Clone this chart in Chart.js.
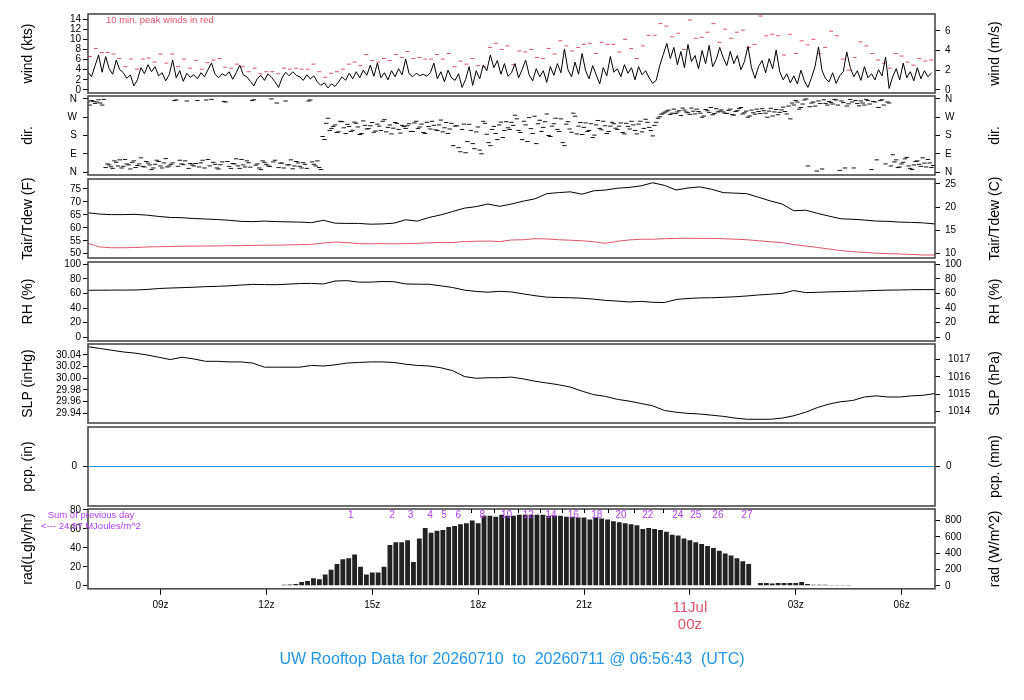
<!DOCTYPE html>
<html>
<head>
<meta charset="utf-8">
<script src="https://cdn.jsdelivr.net/npm/chart.js@4.4.1/dist/chart.umd.min.js"></script>
<style>
html,body{margin:0;padding:0;background:#fff;}
#wrap{position:relative;width:1024px;height:700px;overflow:hidden;background:#fff;}
#wrap canvas{position:absolute;left:0;}
</style>
</head>
<body>
<div id="wrap"></div>
<script>
// ---------------- DATA ----------------
// time window (hours UTC counted from 00z 10 Jul)
const startHour = 6.9453;   // 06:56:43 10 Jul
const endHour = 30.9453;    // 06:56:43 11 Jul
const windStep = 0.1;       // 6-minute samples
const gustStartHour = 7.0;
const gustStep = 1 / 6;     // 10-minute peaks
const tempStep = 1 / 3;     // 20-minute samples
const radStartHour = 12.0;
const radStep = 1 / 6;

const xTickHours = [9, 12, 15, 18, 21, 24, 27, 30];
const xTickLabels = ['09z', '12z', '15z', '18z', '21z', ['11Jul', '00z'], '03z', '06z'];

const windKts = [
  3.6,2.6,4.8,6.9,3.5,6.6,4.2,3.1,5.9,4.0,3.4,2.3,3.0,0.8,2.0,4.4,3.2,5.0,3.6,4.6,2.8,3.4,1.8,3.0,5.9,2.4,3.8,1.7,3.3,2.5,
  3.0,2.2,3.4,2.6,4.0,5.3,3.1,2.4,3.2,2.8,3.6,2.1,3.4,4.9,3.0,2.6,1.7,0.8,2.3,2.9,1.9,3.2,2.5,1.6,0.5,2.4,3.5,2.8,3.6,2.9,
  2.6,1.9,3.0,2.2,2.8,1.6,0.9,1.4,0.4,1.2,0.7,1.6,2.6,1.9,3.3,2.2,3.6,2.4,3.9,2.9,4.9,2.7,5.3,2.4,3.4,2.0,3.8,2.6,4.2,3.0,
  6.1,3.2,2.6,3.3,2.8,3.1,2.7,3.4,5.3,2.2,3.6,1.6,3.9,2.4,1.9,3.2,0.5,2.1,4.6,0.9,3.8,2.2,4.9,3.8,6.9,4.4,5.8,3.1,5.2,2.7,
  3.4,5.2,2.4,4.0,5.9,3.0,1.8,4.2,2.6,3.8,1.5,4.6,2.9,5.2,3.4,8.1,4.0,2.6,5.5,3.1,7.2,3.8,2.2,4.8,3.0,1.2,4.4,2.8,6.6,3.5,
  4.2,2.6,5.0,3.3,4.4,2.0,4.6,3.0,3.8,2.4,1.3,1.9,4.8,7.0,9.2,6.2,8.4,5.0,7.6,4.4,9.0,5.6,6.8,4.2,7.8,5.2,8.8,4.6,6.0,8.4,
  6.4,4.8,7.6,5.2,6.8,4.0,5.6,8.6,4.4,2.3,4.6,5.8,3.4,6.2,4.2,7.9,3.6,2.0,3.2,1.4,2.8,1.2,3.9,1.8,0.5,2.4,4.6,8.5,3.8,2.2,
  1.6,3.4,1.3,2.8,3.6,7.5,4.4,2.6,3.8,1.9,4.6,2.4,3.2,2.0,4.0,2.8,6.5,0.3,2.6,4.2,2.0,5.3,2.4,3.6,1.8,4.4,2.2,3.8,2.6,3.4
];

const windGustKts = [
  6.6,8.2,7.4,7.4,7.1,6.2,4.6,6.1,4.1,6.1,6.3,5.5,7.1,5.3,7.1,4.6,6.1,4.3,5.8,4.1,5.4,5.9,6.2,4.5,4.3,5.1,4.6,3.6,4.3,3.2,3.6,3.6,3.2,4.3,4.1,4.3,
  4.1,4.1,5.1,3.6,2.5,3.3,3.6,4.1,5.1,5.5,4.8,7.0,5.8,5.5,6.2,5.8,7.0,6.4,7.6,6.2,6.4,6.1,6.1,7.0,6.1,7.2,4.6,5.7,5.1,6.2,4.8,4.6,8.4,9.2,8.0,
  8.7,5.0,7.7,7.5,8.0,6.4,6.2,8.2,7.1,9.7,8.7,7.7,8.4,9.0,9.2,7.2,9.4,9.0,9.0,7.5,10.0,8.2,6.2,8.7,10.8,10.8,13.1,12.6,10.5,11.2,8.0,13.8,10.2,10.4,11.4,13.1,
  9.4,12.0,10.2,11.4,11.8,8.4,9.0,14.6,10.7,11.0,10.7,6.9,11.0,7.2,9.7,8.9,10.0,7.2,8.4,11.6,10.7,6.1,3.9,6.4,9.5,8.7,7.2,5.9,5.3,4.3,7.2,6.7,5.5,4.9,6.2,5.7,5.9
];

const windDirDeg = [
  345,352,338,356,330,22,35,18,48,60,28,40,15,55,32,70,25,44,12,38,52,20,66,30,45,355,58,36,350,42,
  30,352,45,20,62,358,38,15,50,345,28,42,65,18,35,55,24,356,40,12,48,30,360,58,22,44,350,36,16,52,
  28,46,18,355,38,55,12,160,265,215,232,198,248,190,224,206,240,185,252,212,228,196,236,205,258,220,188,244,210,230,
  215,238,200,250,222,195,245,212,230,204,256,218,190,240,226,120,210,95,235,140,198,108,250,186,130,225,160,246,205,218,
  245,280,205,160,232,268,190,140,255,220,286,175,238,210,262,130,248,196,275,226,185,242,205,170,232,215,250,190,226,238,
  210,242,188,225,250,205,236,198,260,220,178,245,272,290,300,284,310,296,278,305,292,315,286,298,270,308,294,282,312,300,
  296,288,310,280,302,318,292,270,305,285,298,312,290,300,276,308,294,320,286,262,330,345,318,355,30,340,325,350,15,338,
  348,335,355,8,342,325,358,20,338,350,330,352,12,345,318,356,40,340,85,60,25,48,72,18,35,55,28,44,62,22
];
const windDirDegHalf = [
  330,348,345,340,358,40,26,55,30,20,62,35,48,22,40,28,52,35,20,58,30,45,25,38,352,28,40,55,18,35,
  42,25,58,355,30,48,20,36,348,52,18,40,30,62,25,46,352,34,20,55,38,28,50,340,44,20,35,60,30,45,
  20,38,350,50,30,22,175,240,205,225,195,250,218,235,200,246,222,190,230,214,244,202,226,250,198,232,216,240,192,224,
  228,200,242,215,236,190,224,250,208,232,198,244,212,130,228,100,236,150,205,115,222,90,240,145,210,190,232,170,248,210,
  230,262,195,250,150,214,275,238,200,248,180,226,265,200,145,236,212,290,188,244,220,200,238,182,254,208,228,200,245,216,
  226,195,240,212,232,188,250,215,245,205,230,265,285,295,305,290,288,302,315,296,284,300,310,290,276,302,318,288,296,306,
  290,304,284,298,312,286,300,276,292,310,288,302,270,314,296,282,306,298,325,340,352,310,335,360,322,345,5,338,356,330,
  342,358,330,350,20,336,345,352,326,340,358,335,348,60,352,330,345,30,50,22,40,65,30,12,52,38,70,25,45,32
];

const tairF = [
  65.8,65.3,65.1,65.1,65.2,64.9,64.4,64.0,63.9,63.6,63.4,63.2,62.9,62.5,62.4,62.6,62.4,62.3,62.2,62.0,
  62.9,61.8,61.7,61.7,61.4,61.5,61.8,63.1,62.6,64.0,65.0,66.3,67.6,68.2,69.2,68.3,69.2,70.3,71.2,73.2,
  73.6,73.9,73.0,74.3,74.6,75.3,75.6,76.2,77.4,76.4,74.6,75.4,75.8,74.9,73.6,73.4,73.2,71.8,70.4,69.2,
  66.6,66.8,65.6,64.5,63.5,63.3,63.0,62.6,62.5,62.2,62.1,61.9,61.5
];
const tdewF = [
  54.0,52.6,52.3,52.3,52.4,52.6,52.7,52.8,52.9,52.9,53.0,53.0,53.1,53.1,53.2,53.3,53.3,53.4,53.5,53.6,
  54.1,54.5,54.3,53.9,53.8,53.9,53.8,53.9,54.0,54.2,54.4,54.3,54.7,54.8,54.9,54.7,55.3,55.4,55.8,55.7,
  55.4,55.2,55.0,54.6,54.0,54.8,55.3,55.6,55.6,55.8,55.9,56.0,55.9,55.9,55.8,55.6,55.4,55.0,54.6,54.3,
  53.5,53.0,52.4,51.8,51.2,50.8,50.5,50.2,50.0,49.9,49.7,49.5,49.5
];
const rhPct = [
  64.4,64.5,64.6,64.7,64.8,65.5,66.8,67.5,68.0,68.6,69.4,69.8,70.5,71.5,72.5,72.2,72.0,72.8,73.6,73.8,
  73.0,77.0,77.6,75.6,75.5,76.4,76.2,73.0,72.8,72.6,70.5,68.2,64.6,62.8,61.8,63.0,62.1,59.5,57.0,55.0,
  54.5,54.2,53.5,52.2,50.6,49.6,48.4,49.2,48.0,47.6,51.8,53.2,54.0,54.2,54.8,55.5,56.6,58.0,59.0,60.2,
  64.0,61.2,61.6,62.2,62.6,63.0,63.6,64.2,64.6,64.8,65.2,65.3,65.3
];
const slpInHg = [
  30.054,30.051,30.048,30.045,30.043,30.040,30.036,30.032,30.036,30.033,30.029,30.029,30.028,30.028,30.026,
  30.019,30.019,30.019,30.019,30.022,30.021,30.023,30.026,30.027,30.028,30.028,30.027,30.024,30.022,30.021,
  30.018,30.013,30.003,30.000,30.001,30.001,30.002,29.999,29.995,29.992,29.989,29.985,29.978,29.972,29.969,
  29.964,29.961,29.957,29.953,29.945,29.942,29.940,29.939,29.937,29.935,29.932,29.930,29.930,29.930,29.932,
  29.936,29.942,29.950,29.956,29.960,29.962,29.968,29.970,29.968,29.968,29.970,29.971,29.974
];
const pcpIn = [0, 0];
const pcpHours = [startHour, endHour];

const radLy = [
  0.5,0.5,0.7,1,1.5,2,4,5,8,7,12,17,23,28,29,33,20,12,14,14,
  20,43,46,46,48,25,50,61,56,58,59,62,63,65,66,69,66,74,74,73,
  75,74,74,75,75,75,75,75,74,74,74,73,73,72,72,70,72,71,70,68,
  67,66,65,64,60,61,60,59,57,54,53,50,48,46,44,42,40,37,34,32,
  29,26,23,0,3,3,2.5,3,3,3,3,4,2,1,1,1,0.8,0.8,0.8,0.8,0
];
const radSumLabels = ['1','2','3','4','5','6','8','10','12','14','16','18','20','22','24','25','26','27'];
const radSumHours = [14.390,15.562,16.084,16.640,17.037,17.434,18.115,18.807,19.420,20.064,20.696,21.360,22.050,22.807,23.658,24.169,24.793,25.616];
const radSumTickHours = [17.786,18.455,19.119,19.752,20.384,21.009,21.690,22.420,23.233];
const prevDayText = ['Sum of previous day', '<--- 24.97 MJoules/m^2'];

const mainTitle = 'UW Rooftop Data for 20260710  to  20260711 @ 06:56:43  (UTC)';

// unit conversions
const KTS_TO_MS = 0.514444;
const INHG_TO_HPA = 33.8639;
const LY_TO_WM2 = 11.63;

// ---------------- STYLE / HELPERS ----------------
const FONT = '"Liberation Sans", Arial, Helvetica, sans-serif';
Chart.defaults.font.family = FONT;
Chart.defaults.font.size = 10;
Chart.defaults.color = '#000';
const RED = '#DF536B';
const BLUE = '#2297E6';
const PURPLE = '#B040F0';

const wrap = document.getElementById('wrap');

const panelPlugin = {
  id: 'panel',
  afterDraw(chart, args, opts) {
    const { ctx, chartArea: a } = chart;
    ctx.save();
    ctx.strokeStyle = '#4a4a4a';
    ctx.lineWidth = 1.6;
    ctx.strokeRect(a.left, a.top, a.right - a.left, a.bottom - a.top);
    if (opts.rightTitle) {
      ctx.translate(995, (a.top + a.bottom) / 2);
      ctx.rotate(-Math.PI / 2);
      ctx.font = '14px ' + FONT;
      ctx.fillStyle = '#000';
      ctx.textAlign = 'center';
      ctx.textBaseline = 'middle';
      ctx.fillText(opts.rightTitle, 0, 0);
    }
    ctx.restore();
  }
};

function yScale(pos, min, max, values, labels, title, pad) {
  return {
    type: 'linear', position: pos, min: min, max: max,
    afterFit: sc => { sc.width = pos === 'left' ? 88 : 89; },
    afterBuildTicks: sc => { sc.ticks = values.map(v => ({ value: v })); },
    grid: { drawOnChartArea: false, drawTicks: true, tickLength: 5, tickColor: '#000', tickWidth: 1 },
    border: { display: false },
    ticks: {
      padding: pad, color: '#000', font: { size: 10 },
      autoSkip: false,
      callback: (v, i) => labels[i]
    },
    title: pos === 'left'
      ? { display: true, text: title, color: '#000', font: { size: 14 }, padding: { top: 20, bottom: 0 } }
      : { display: false }
  };
}

function hiddenX() {
  return { type: 'linear', min: startHour, max: endHour, display: false };
}

function makePanel(top, height, padTop, padBottom, config, rightTitle, extraPlugins) {
  const c = document.createElement('canvas');
  c.width = 1024; c.height = height;
  c.style.top = top + 'px';
  c.style.width = '1024px'; c.style.height = height + 'px';
  wrap.appendChild(c);
  const o = config.options;
  o.responsive = false;
  o.animation = false;
  o.layout = { padding: { top: padTop, bottom: padBottom, left: 0, right: 0 } };
  o.plugins = Object.assign({ legend: { display: false }, tooltip: { enabled: false }, panel: { rightTitle: rightTitle } }, o.plugins || {});
  config.plugins = [panelPlugin].concat(extraPlugins || []);
  return new Chart(c, config);
}

const series = (arr, t0, dt) => arr.map((v, i) => ({ x: t0 + i * dt, y: v }));
const lineDs = (data, color) => ({ data: data, borderColor: color, borderWidth: 1, pointRadius: 0, tension: 0, fill: false });

// panel geometry
const panelTops = [14, 96, 179, 262, 344, 427, 509];
const panelH = 79;
const PAD = 16;

// ---------------- WIND ----------------
const windNote = {
  id: 'windNote',
  afterDraw(chart) {
    const { ctx, chartArea: a } = chart;
    ctx.save();
    ctx.font = '9.5px ' + FONT;
    ctx.fillStyle = RED;
    ctx.textBaseline = 'middle';
    ctx.fillText('10 min. peak winds in red', 106, a.top + 6);
    ctx.restore();
  }
};
makePanel(panelTops[0] - PAD, panelH + 2 * PAD, PAD, PAD, {
  type: 'line',
  data: { datasets: [
    lineDs(series(windKts, startHour, windStep), '#000'),
    { data: series(windGustKts, gustStartHour, gustStep), showLine: false, pointStyle: 'line',
      pointRadius: 2, borderColor: RED, pointBorderColor: RED, pointBorderWidth: 1, borderWidth: 1 }
  ] },
  options: { scales: {
    x: hiddenX(),
    y: yScale('left', -0.6, 15.0, [0,2,4,6,8,10,12,14], ['0','2','4','6','8','10','12','14'], 'wind (kts)', 2),
    yR: yScale('right', -0.6 * KTS_TO_MS, 15.0 * KTS_TO_MS, [0,2,4,6], ['0','2','4','6'], '', 5)
  } }
}, 'wind (m/s)', [windNote]);

// ---------------- DIRECTION ----------------
const dirLabels = ['N','E','S','W','N'];
makePanel(panelTops[1] - PAD, panelH + 2 * PAD, PAD, PAD, {
  type: 'line',
  data: { datasets: [
    { data: series(windDirDeg, startHour, windStep), showLine: false, pointStyle: 'line', pointRadius: 2.2,
      borderColor: '#111', pointBorderColor: '#111', pointBorderWidth: 1 },
    { data: series(windDirDegHalf, startHour + windStep / 2, windStep), showLine: false, pointStyle: 'line', pointRadius: 2.2,
      borderColor: '#111', pointBorderColor: '#111', pointBorderWidth: 1 }
  ] },
  options: { scales: {
    x: hiddenX(),
    y: yScale('left', -14.6, 374.6, [0,90,180,270,360], dirLabels, 'dir.', 6),
    yR: yScale('right', -14.6, 374.6, [0,90,180,270,360], dirLabels, '', 5)
  } }
}, 'dir.');

// ---------------- TEMPERATURE ----------------
const tMinF = 48.34, tMaxF = 78.86;
makePanel(panelTops[2] - PAD, panelH + 2 * PAD, PAD, PAD, {
  type: 'line',
  data: { datasets: [
    lineDs(series(tairF, startHour, tempStep), '#000'),
    lineDs(series(tdewF, startHour, tempStep), RED)
  ] },
  options: { scales: {
    x: hiddenX(),
    y: yScale('left', tMinF, tMaxF, [50,55,60,65,70,75], ['50','55','60','65','70','75'], 'Tair/Tdew (F)', 2),
    yR: yScale('right', (tMinF - 32) / 1.8, (tMaxF - 32) / 1.8, [10,15,20,25], ['10','15','20','25'], '', 5)
  } }
}, 'Tair/Tdew (C)');

// ---------------- RH ----------------
const rhTicks = [0,20,40,60,80,100];
const rhLabels = ['0','20','40','60','80','100'];
makePanel(panelTops[3] - PAD, panelH + 2 * PAD, PAD, PAD, {
  type: 'line',
  data: { datasets: [ lineDs(series(rhPct, startHour, tempStep), '#000') ] },
  options: { scales: {
    x: hiddenX(),
    y: yScale('left', -5, 103.1, rhTicks, rhLabels, 'RH (%)', 2),
    yR: yScale('right', -5, 103.1, rhTicks, rhLabels, '', 5)
  } }
}, 'RH (%)');

// ---------------- SLP ----------------
const pMin = 29.9236, pMax = 30.0586;
makePanel(panelTops[4] - PAD, panelH + 2 * PAD, PAD, PAD, {
  type: 'line',
  data: { datasets: [ lineDs(series(slpInHg, startHour, tempStep), '#000') ] },
  options: { scales: {
    x: hiddenX(),
    y: yScale('left', pMin, pMax, [29.94,29.96,29.98,30.00,30.02,30.04], ['29.94','29.96','29.98','30.00','30.02','30.04'], 'SLP (inHg)', 2),
    yR: yScale('right', pMin * INHG_TO_HPA, pMax * INHG_TO_HPA, [1014,1015,1016,1017], ['1014','1015','1016','1017'], '', 8)
  } }
}, 'SLP (hPa)');

// ---------------- PRECIP ----------------
makePanel(panelTops[5] - PAD, panelH + 2 * PAD, PAD, PAD, {
  type: 'line',
  data: { datasets: [ lineDs(pcpIn.map((v, i) => ({ x: pcpHours[i], y: v })), BLUE) ] },
  options: { scales: {
    x: hiddenX(),
    y: yScale('left', -1, 1, [0], ['0'], 'pcp. (in)', 6),
    yR: yScale('right', -1, 1, [0], ['0'], '', 6)
  } }
}, 'pcp. (mm)');

// ---------------- RADIATION ----------------
const radNotes = {
  id: 'radNotes',
  afterDraw(chart) {
    const { ctx, chartArea: a, scales } = chart;
    const xs = scales.x;
    ctx.save();
    ctx.fillStyle = PURPLE;
    ctx.font = '10px ' + FONT;
    ctx.textAlign = 'center';
    ctx.textBaseline = 'middle';
    radSumLabels.forEach((t, i) => ctx.fillText(t, xs.getPixelForValue(radSumHours[i]), a.top + 6));
    ctx.font = '9.5px ' + FONT;
    ctx.fillText(prevDayText[0], 91, a.top + 6);
    ctx.fillText(prevDayText[1], 91, a.top + 17);
    ctx.strokeStyle = '#000';
    ctx.lineWidth = 1;
    radSumTickHours.forEach(h => {
      const px = Math.round(xs.getPixelForValue(h)) + 0.5;
      ctx.beginPath(); ctx.moveTo(px, a.top); ctx.lineTo(px, a.top + 4); ctx.stroke();
    });
    ctx.restore();
  }
};
const radMin = -3.16, radMax = 81.05;
const radCanvasTop = panelTops[6] - PAD;
makePanel(radCanvasTop, 700 - radCanvasTop, PAD, 0, {
  type: 'bar',
  data: { datasets: [
    { data: series(radLy, radStartHour, radStep), backgroundColor: '#222', borderWidth: 0,
      barPercentage: 1.0, categoryPercentage: 0.82 }
  ] },
  options: {
    scales: {
      x: {
        type: 'linear', min: startHour, max: endHour, offset: false,
        afterFit: sc => { sc.height = 50; },
        afterBuildTicks: sc => { sc.ticks = xTickHours.map(v => ({ value: v })); },
        grid: { drawOnChartArea: false, drawTicks: true, tickLength: 6, tickColor: '#000', offset: false },
        border: { display: false },
        ticks: {
          autoSkip: false, maxRotation: 0, minRotation: 0, padding: 4,
          callback: (v, i) => xTickLabels[i],
          color: ctx => (Array.isArray(xTickLabels[ctx.index]) ? RED : '#000'),
          font: ctx => (Array.isArray(xTickLabels[ctx.index]) ? { size: 15, lineHeight: 1.15 } : { size: 10 })
        }
      },
      y: yScale('left', radMin, radMax, [0,20,40,60,80], ['0','20','40','60','80'], 'rad(Lgly/hr)', 2),
      yR: yScale('right', radMin * LY_TO_WM2, radMax * LY_TO_WM2, [0,200,400,600,800], ['0','200','400','600','800'], '', 5)
    },
    plugins: {
      title: {
        display: true, position: 'bottom', text: mainTitle, color: BLUE,
        font: { size: 16, weight: 'normal', lineHeight: 1.2 },
        padding: { top: 11, bottom: 31 }
      }
    }
  }
}, 'rad (W/m^2)', [radNotes]);
</script>
</body>
</html>
